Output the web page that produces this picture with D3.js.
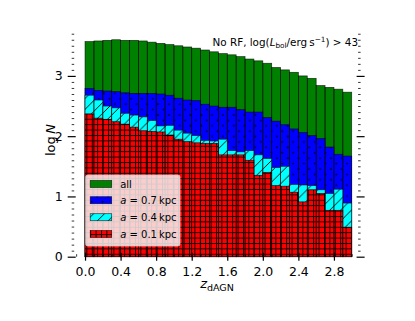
<!DOCTYPE html>
<html>
<head>
<meta charset="utf-8">
<script src="https://cdn.jsdelivr.net/npm/d3@7"></script>
<style>
body { margin: 0; background: #fff; }
text { font-family: "DejaVu Sans", sans-serif; fill: #000; }
</style>
</head>
<body>
<svg id="chart" width="415" height="321"></svg>
<script>
// left edge of each redshift bin (bin width 0.1)
var zBins = [0.0, 0.1, 0.2, 0.3, 0.4, 0.5, 0.6, 0.7, 0.8, 0.9,
             1.0, 1.1, 1.2, 1.3, 1.4, 1.5, 1.6, 1.7, 1.8, 1.9,
             2.0, 2.1, 2.2, 2.3, 2.4, 2.5, 2.6, 2.7, 2.8, 2.9];
var binWidth = 0.1;

// log N per bin
var logNAll = [3.57, 3.58, 3.59, 3.60, 3.59, 3.59, 3.58, 3.56, 3.54, 3.52,
               3.50, 3.48, 3.46, 3.43, 3.40, 3.37, 3.35, 3.32, 3.28, 3.25,
               3.21, 3.14, 3.10, 3.06, 3.00, 2.96, 2.84, 2.81, 2.78, 2.73];
var logN07 = [2.79, 2.76, 2.75, 2.74, 2.72, 2.71, 2.71, 2.71, 2.70, 2.68,
              2.63, 2.60, 2.59, 2.53, 2.50, 2.48, 2.48, 2.44, 2.40, 2.40,
              2.31, 2.25, 2.19, 2.12, 2.06, 2.01, 1.96, 1.82, 1.70, 1.67];
var logN04 = [2.68, 2.60, 2.50, 2.47, 2.38, 2.35, 2.32, 2.26, 2.17, 2.18,
              2.10, 2.05, 2.01, 1.93, 1.92, 1.95, 1.76, 1.74, 1.76, 1.69,
              1.63, 1.48, 1.50, 1.20, 1.19, 1.18, 1.11, 1.05, 1.12, 0.89];
var logN01 = [2.37, 2.30, 2.28, 2.24, 2.20, 2.15, 2.09, 2.08, 2.07, 2.02,
              1.95, 1.91, 1.89, 1.88, 1.88, 1.69, 1.69, 1.69, 1.60, 1.35,
              1.40, 1.18, 1.17, 1.07, 0.91, 1.11, 1.05, 0.77, 0.77, 0.49];

var xTicks = [0.0, 0.4, 0.8, 1.2, 1.6, 2.0, 2.4, 2.8];
var yTicks = [0, 1, 2, 3];

var legendLabels = ["all", "0.7", "0.4", "0.1"];
var seriesColors = ["green", "blue", "cyan", "red"];
var seriesHatch = [null, "url(#hatchDots)", "url(#hatchSlash)", "url(#hatchGrid)"];

var svg = d3.select("#chart");

var x = d3.scaleLinear().domain([-0.15, 3.1]).range([71.7, 360.6]);
var y = d3.scaleLinear().domain([0, 3.79]).range([256.7, 28.3]);

// hatch patterns (black, like matplotlib hatching)
var defs = svg.append("defs");
var P = 10.8;
var dots = defs.append("pattern").attr("id", "hatchDots")
    .attr("patternUnits", "userSpaceOnUse").attr("width", P).attr("height", P);
dots.append("circle").attr("cx", 1.5).attr("cy", 1.5).attr("r", 0.85).attr("fill", "#000");
dots.append("circle").attr("cx", 1.5 + P / 2).attr("cy", 1.5 + P / 2).attr("r", 0.85).attr("fill", "#000");

var slash = defs.append("pattern").attr("id", "hatchSlash")
    .attr("patternUnits", "userSpaceOnUse").attr("width", P).attr("height", P);
slash.append("path")
    .attr("d", "M-1,1L1,-1M0," + P + "L" + P + ",0M" + (P - 1) + "," + (P + 1) + "L" + (P + 1) + "," + (P - 1))
    .attr("stroke", "#000").attr("stroke-width", 0.9);

var G = P / 2;
var grid = defs.append("pattern").attr("id", "hatchGrid")
    .attr("patternUnits", "userSpaceOnUse").attr("width", G).attr("height", G);
grid.append("path")
    .attr("d", "M0,0.5H" + G + "M0.5,0V" + G)
    .attr("stroke", "#000").attr("stroke-width", 0.9);

// overlaid bars, "all" first and smallest radius on top
var allSeries = [logNAll, logN07, logN04, logN01];

allSeries.forEach(function (vals, k) {
    var g = svg.append("g").attr("class", "series" + k);
    g.selectAll("rect.fill")
        .data(vals)
        .enter()
        .append("rect")
        .attr("x", function (d, i) { return x(zBins[i]); })
        .attr("y", function (d) { return y(d); })
        .attr("width", function (d, i) { return x(zBins[i] + binWidth) - x(zBins[i]); })
        .attr("height", function (d) { return y(0) - y(d); })
        .attr("fill", seriesColors[k]);
    if (seriesHatch[k]) {
        g.selectAll("rect.hatch")
            .data(vals)
            .enter()
            .append("rect")
            .attr("x", function (d, i) { return x(zBins[i]); })
            .attr("y", function (d) { return y(d); })
            .attr("width", function (d, i) { return x(zBins[i] + binWidth) - x(zBins[i]); })
            .attr("height", function (d) { return y(0) - y(d); })
            .attr("fill", seriesHatch[k]);
    }
    g.selectAll("rect.edge")
        .data(vals)
        .enter()
        .append("rect")
        .attr("x", function (d, i) { return x(zBins[i]); })
        .attr("y", function (d) { return y(d); })
        .attr("width", function (d, i) { return x(zBins[i] + binWidth) - x(zBins[i]); })
        .attr("height", function (d) { return y(0) - y(d); })
        .attr("fill", "none")
        .attr("stroke", "#000")
        .attr("stroke-opacity", 0.75)
        .attr("stroke-width", 0.7);
});

// axes
var xMinor = d3.range(-1, 31).map(function (d) { return d / 10; })
    .filter(function (d) { return Math.round(d * 10) % 4 !== 0; });
var yMinor = d3.range(1, 38).map(function (d) { return d / 10; })
    .filter(function (d) { return Math.round(d * 10) % 10 !== 0; });

var bottom = y(0), top = y(3.79), left = x(-0.15), right = x(3.1);

function styleAxis(sel) {
    sel.select(".domain").remove();
    sel.selectAll("text").style("font-family", "DejaVu Sans").style("font-size", "12.5px");
}

var xAxis = svg.append("g")
    .attr("transform", "translate(0," + bottom + ")")
    .call(d3.axisBottom(x).tickValues(xTicks).tickFormat(d3.format(".1f")).tickSize(4).tickPadding(6));
styleAxis(xAxis);
xAxis.selectAll(".tick line").attr("y1", -4).attr("stroke-width", 1.2);

var xAxisMinor = svg.append("g")
    .attr("transform", "translate(0," + bottom + ")")
    .call(d3.axisBottom(x).tickValues(xMinor).tickFormat("").tickSize(2.5));
xAxisMinor.select(".domain").remove();
xAxisMinor.selectAll(".tick line").attr("y1", -2.5).attr("y2", 0).attr("stroke-width", 0.8);

var yAxis = svg.append("g")
    .attr("transform", "translate(" + left + ",0)")
    .call(d3.axisLeft(y).tickValues(yTicks).tickFormat(d3.format("d")).tickSize(4).tickPadding(5));
styleAxis(yAxis);
yAxis.selectAll(".tick line").attr("x1", 4).attr("stroke-width", 1.2);

var yAxisMinor = svg.append("g")
    .attr("transform", "translate(" + left + ",0)")
    .call(d3.axisLeft(y).tickValues(yMinor).tickFormat("").tickSize(2.5));
yAxisMinor.select(".domain").remove();
yAxisMinor.selectAll(".tick line").attr("x1", 0).attr("x2", 2.5).attr("stroke-width", 0.8);

var yAxisR = svg.append("g")
    .attr("transform", "translate(" + right + ",0)")
    .call(d3.axisRight(y).tickValues(yTicks).tickFormat("").tickSize(4));
yAxisR.select(".domain").remove();
yAxisR.selectAll(".tick line").attr("x1", -4).attr("stroke-width", 1.2);

var yAxisRMinor = svg.append("g")
    .attr("transform", "translate(" + right + ",0)")
    .call(d3.axisRight(y).tickValues(yMinor).tickFormat("").tickSize(2.5));
yAxisRMinor.select(".domain").remove();
yAxisRMinor.selectAll(".tick line").attr("x1", 0).attr("x2", -2.5).attr("stroke-width", 0.8);

// frame
svg.append("rect")
    .attr("x", left).attr("y", top)
    .attr("width", right - left).attr("height", bottom - top)
    .attr("fill", "none").attr("stroke", "#000").attr("stroke-width", 0.9);

// axis labels
var xl = svg.append("text")
    .attr("x", 217).attr("y", 288)
    .attr("text-anchor", "middle")
    .style("font-size", "13px");
xl.append("tspan").style("font-style", "italic").text("z");
xl.append("tspan").attr("dy", 3).style("font-size", "9.5px").text("dAGN");

var yl = svg.append("text")
    .attr("transform", "translate(55,140) rotate(-90)")
    .attr("text-anchor", "middle")
    .style("font-size", "13px");
yl.append("tspan").text("log\u2009");
yl.append("tspan").style("font-style", "italic").text("N");

// annotation
var ann = svg.append("text")
    .attr("x", 358).attr("y", 45.5)
    .attr("text-anchor", "end")
    .style("font-size", "10.4px");
ann.append("tspan").text("No RF, log(");
ann.append("tspan").style("font-style", "italic").text("L");
ann.append("tspan").attr("dy", 2.5).style("font-size", "7.3px").text("bol");
ann.append("tspan").attr("dy", -2.5).text("/erg\u2009s");
ann.append("tspan").attr("dy", -4).style("font-size", "7.3px").text("\u22121");
ann.append("tspan").attr("dy", 4).text(") > 43");

// legend
var legend = svg.append("g").attr("transform", "translate(85.7,175)");
legend.append("rect")
    .attr("width", 94.3).attr("height", 71)
    .attr("rx", 2)
    .attr("fill", "#fff").attr("fill-opacity", 0.8)
    .attr("stroke", "#ccc").attr("stroke-width", 0.8);

var rowY = [9, 25.2, 42.2, 59];
legendLabels.forEach(function (lab, k) {
    var r = legend.append("g").attr("transform", "translate(4.5," + rowY[k] + ")");
    r.append("rect").attr("x", 0).attr("y", -3.5).attr("width", 21.5).attr("height", 7)
        .attr("fill", seriesColors[k]);
    if (seriesHatch[k]) {
        r.append("rect").attr("x", 0).attr("y", -3.5).attr("width", 21.5).attr("height", 7)
            .attr("fill", seriesHatch[k]);
    }
    r.append("rect").attr("x", 0).attr("y", -3.5).attr("width", 21.5).attr("height", 7)
        .attr("fill", "none").attr("stroke", "#000").attr("stroke-opacity", 0.75).attr("stroke-width", 0.7);
    var t = r.append("text").attr("x", 30).attr("y", 4).style("font-size", "10px");
    if (k === 0) {
        t.text(lab);
    } else {
        t.append("tspan").style("font-style", "italic").text("a");
        t.append("tspan").text(" = " + lab + "\u2009kpc");
    }
});
</script>
</body>
</html>
